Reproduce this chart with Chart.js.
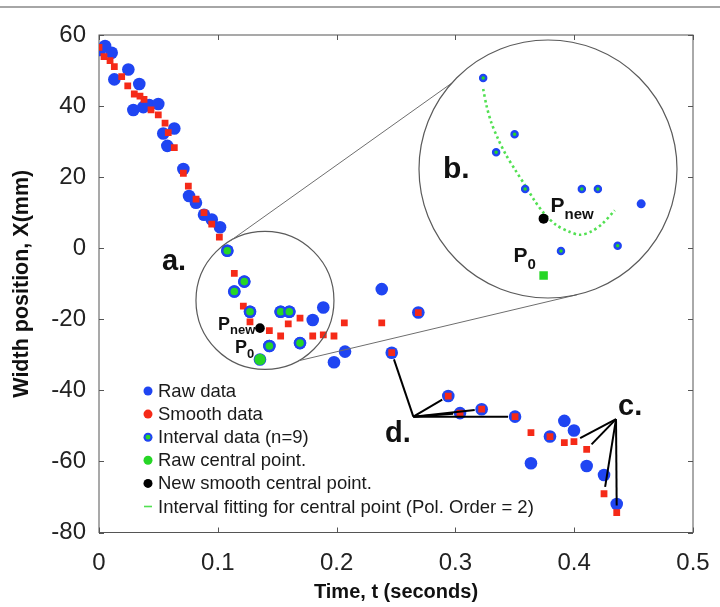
<!DOCTYPE html>
<html>
<head>
<meta charset="utf-8">
<script src="https://cdn.jsdelivr.net/npm/chart.js@4/dist/chart.umd.min.js"></script>
<style>
  body { margin: 0; background: #fff; }
  #wrap { position: relative; width: 720px; height: 607px; background: #fff; }
  #main { position: absolute; left: 0; top: 0; }
  #zoom { position: absolute; left: 418px; top: 39px; }
</style>
</head>
<body>
<div id="wrap">
  <canvas id="main" width="720" height="607"></canvas>
  <canvas id="zoom" width="260" height="260"></canvas>
</div>
<script>
"use strict"

// raw width measurements: time (s) and width position (mm)
const rawT = [0.0008, 0.0051, 0.0107, 0.0129, 0.0247, 0.0289, 0.0339, 0.0373, 0.0423, 0.0499,
  0.0541, 0.0575, 0.0634, 0.071, 0.0758, 0.0816, 0.0884, 0.0949, 0.1019, 0.108,
  0.1139, 0.1223, 0.1271, 0.1355, 0.1434, 0.1529, 0.1602, 0.1692, 0.1799, 0.1888,
  0.1978, 0.2071, 0.238, 0.2464, 0.2688, 0.294, 0.3039, 0.3221, 0.3502, 0.3636,
  0.3796, 0.3917, 0.3998, 0.4105, 0.4251, 0.4358]
const rawX = [55.8, 56.9, 55.0, 47.5, 50.3, 38.9, 46.2, 39.7, 40.3, 40.6,
  32.3, 28.8, 33.7, 22.3, 14.7, 12.8, 9.4, 8.1, 5.9, -0.7,
  -12.2, -9.4, -17.9, -31.3, -27.5, -17.9, -17.9, -26.7, -20.2, -16.7,
  -32.1, -29.1, -11.5, -29.4, -18.1, -41.6, -46.4, -45.3, -47.4, -60.5,
  -53.0, -48.6, -51.3, -61.3, -63.8, -72.0]

// smoothed series
const smoothT = [0.0, 0.0042, 0.0093, 0.0129, 0.0191, 0.0242, 0.0297, 0.0345, 0.0379, 0.0438,
  0.0499, 0.0556, 0.0583, 0.0634, 0.071, 0.0752, 0.0817, 0.0884, 0.0949, 0.1013,
  0.1139, 0.1215, 0.1271, 0.1434, 0.1529, 0.1593, 0.1692, 0.1799, 0.1888, 0.1978,
  0.2065, 0.238, 0.2464, 0.2688, 0.294, 0.3039, 0.3221, 0.3502, 0.3636, 0.3796,
  0.3917, 0.3998, 0.4105, 0.4251, 0.4358]
const smoothX = [56.5, 53.9, 52.8, 51.1, 48.3, 45.7, 43.4, 42.8, 41.9, 38.9,
  37.5, 35.2, 32.5, 28.3, 21.1, 17.5, 13.8, 10.0, 6.8, 3.1,
  -7.1, -16.3, -20.7, -23.2, -24.7, -21.3, -19.7, -24.7, -24.4, -24.7,
  -21.0, -21.0, -29.4, -18.1, -41.6, -46.4, -45.3, -47.4, -51.9, -53.0,
  -54.7, -54.4, -56.6, -69.1, -74.4]

// window of n=9 around the central point (central point itself kept apart)
const intervalT = [0.108, 0.1139, 0.1223, 0.1271, 0.1434, 0.1529, 0.1602, 0.1692]
const intervalX = [-0.7, -12.2, -9.4, -17.9, -27.5, -17.9, -17.9, -26.7]

const centralT = [0.1355]
const centralX = [-31.3]
const newCentralT = [0.1355]
const newCentralX = [-22.5]

// order-2 fit over the window, sampled along the drawn curve
const fitT = [0.108, 0.1096, 0.1117, 0.1146, 0.1182, 0.1225, 0.1272, 0.1312, 0.1355, 0.1413,
  0.147, 0.1521, 0.1571, 0.1622, 0.1679]
const fitX = [-2.4, -5.1, -7.6, -10.0, -12.5, -14.9, -17.4, -19.6, -21.6, -23.5,
  -24.5, -25.0, -24.5, -23.3, -21.2]

const xTicks = [0, 0.1, 0.2, 0.3, 0.4, 0.5]
const yTicks = [-80, -60, -40, -20, 0, 20, 40, 60]

// view of the magnified window (t range, X range)
const zoomT = [0.0813, 0.1937]
const zoomX = [-33.95, 4.35]
const zoomRawIdx = 28

const BLUE = "#1f45f2"
const RED = "#f52a18"
const GREEN = "#26d626"
const FIT_GREEN = "#52e052"
const FRAME = "#555"
const INK = "#1a1a1a"
const FONT = '"Liberation Sans", Arial, sans-serif'

const mainCanvas = document.getElementById("main")
const zoomCanvas = document.getElementById("zoom")
const zoomBox = { left: 418, top: 39, size: 260, r: 129 }

function points(ts, xs) {
  return ts.map((t, i) => ({ x: t, y: xs[i] }))
}

function dot(ctx, x, y, r, color) {
  ctx.fillStyle = color
  ctx.beginPath()
  ctx.arc(x, y, r, 0, Math.PI * 2)
  ctx.fill()
}

function subLabel(ctx, x, y, main, sub, size, subSize, drop) {
  ctx.fillStyle = "#111"
  ctx.textAlign = "left"
  ctx.textBaseline = "alphabetic"
  ctx.font = `bold ${size}px ${FONT}`
  ctx.fillText(main, x, y)
  const w = ctx.measureText(main).width
  ctx.font = `bold ${subSize}px ${FONT}`
  ctx.fillText(sub, x + w, y + drop)
}

function bigLabel(ctx, x, y, text, size) {
  ctx.fillStyle = "#111"
  ctx.textAlign = "left"
  ctx.textBaseline = "alphabetic"
  ctx.font = `bold ${size}px ${FONT}`
  ctx.fillText(text, x, y)
}

// leader lines from a label to a few smoothed points, stopping short of the marker
function leaders(ctx, ox, oy, idxs, sx, sy) {
  ctx.strokeStyle = "#000"
  ctx.lineWidth = 2
  idxs.forEach((i) => {
    const tx = sx.getPixelForValue(smoothT[i])
    const ty = sy.getPixelForValue(smoothX[i])
    const d = Math.hypot(tx - ox, ty - oy)
    const k = (d - 7) / d
    ctx.beginPath()
    ctx.moveTo(ox, oy)
    ctx.lineTo(ox + (tx - ox) * k, oy + (ty - oy) * k)
    ctx.stroke()
  })
}

const legendRows = [
  { text: "Raw data", mark: (c, x, y) => dot(c, x, y, 4.5, BLUE) },
  { text: "Smooth data", mark: (c, x, y) => dot(c, x, y, 4.5, RED) },
  { text: "Interval data (n=9)", mark: (c, x, y) => { dot(c, x, y, 4.5, BLUE); dot(c, x, y, 2.4, GREEN) } },
  { text: "Raw central point.", mark: (c, x, y) => dot(c, x, y, 4.5, GREEN) },
  { text: "New smooth central point.", mark: (c, x, y) => dot(c, x, y, 4.5, "#000") },
  { text: "Interval fitting for central point (Pol. Order = 2)", mark: (c, x, y) => { c.fillStyle = FIT_GREEN; c.fillRect(x - 4, y - 0.8, 8, 1.6) } },
]

const mainDecor = {
  id: "mainDecor",
  beforeDatasetsDraw(chart) {
    const { ctx, chartArea: a, scales } = chart
    ctx.save()
    // thin rule across the top of the figure
    ctx.fillStyle = "#a6a6a6"
    ctx.fillRect(0, 6, 720, 2)
    // box and inward tick marks on all four sides
    ctx.strokeStyle = FRAME
    ctx.lineWidth = 1
    ctx.strokeRect(a.left, a.top, a.right - a.left, a.bottom - a.top)
    ctx.beginPath()
    xTicks.forEach((v) => {
      const x = Math.round(scales.x.getPixelForValue(v)) + 0.5
      ctx.moveTo(x, a.bottom); ctx.lineTo(x, a.bottom - 5)
      ctx.moveTo(x, a.top); ctx.lineTo(x, a.top + 5)
    })
    yTicks.forEach((v) => {
      const y = Math.round(scales.y.getPixelForValue(v)) + 0.5
      ctx.moveTo(a.left, y); ctx.lineTo(a.left + 5, y)
      ctx.moveTo(a.right, y); ctx.lineTo(a.right - 5, y)
    })
    ctx.stroke()
    ctx.restore()
  },
  afterDatasetsDraw(chart) {
    const { ctx, scales } = chart
    const sx = scales.x
    const sy = scales.y
    ctx.save()

    // circle "a." around the window and its link to the magnified view
    const cx = sx.getPixelForValue(0.1397)
    const cy = sy.getPixelForValue(-14.7)
    const r = 69
    const bx = zoomBox.left + zoomBox.size / 2
    const by = zoomBox.top + zoomBox.size / 2
    ctx.strokeStyle = "#5a5a5a"
    ctx.lineWidth = 1.2
    ctx.beginPath()
    ctx.arc(cx, cy, r, 0, Math.PI * 2)
    ctx.stroke()
    ctx.strokeStyle = "#6e6e6e"
    ctx.lineWidth = 1
    const links = [[-120, -138.3], [61, 77]]
    links.forEach(([a1, a2]) => {
      const p = (a1 * Math.PI) / 180
      const q = (a2 * Math.PI) / 180
      ctx.beginPath()
      ctx.moveTo(cx + r * Math.cos(p), cy + r * Math.sin(p))
      ctx.lineTo(bx + zoomBox.r * Math.cos(q), by + zoomBox.r * Math.sin(q))
      ctx.stroke()
    })

    // labels near the window
    bigLabel(ctx, sx.getPixelForValue(0.053), sy.getPixelForValue(-6.1), "a.", 29)
    const nx = sx.getPixelForValue(newCentralT[0])
    const ny = sy.getPixelForValue(newCentralX[0])
    subLabel(ctx, nx - 42, ny + 2, "P", "new", 18, 13, 4)
    const px = sx.getPixelForValue(centralT[0])
    const py = sy.getPixelForValue(centralX[0])
    subLabel(ctx, px - 25, py - 6, "P", "0", 18, 13, 5)

    // "d." and "c." with their leader lines
    const dx = sx.getPixelForValue(0.2646)
    const dy = sy.getPixelForValue(-47.4)
    leaders(ctx, dx, dy, [32, 34, 35, 36, 37], sx, sy)
    bigLabel(ctx, sx.getPixelForValue(0.2407), sy.getPixelForValue(-54.5), "d.", 29)
    const ex = sx.getPixelForValue(0.4352)
    const ey = sy.getPixelForValue(-48.1)
    leaders(ctx, ex, ey, [41, 42, 43, 44], sx, sy)
    bigLabel(ctx, sx.getPixelForValue(0.4369), sy.getPixelForValue(-46.9), "c.", 29)

    ctx.restore()
  },
  afterDraw(chart) {
    const { ctx } = chart
    ctx.save()
    ctx.font = `18.5px ${FONT}`
    ctx.textAlign = "left"
    ctx.textBaseline = "middle"
    legendRows.forEach((row, i) => {
      const y = 391 + i * 23.1
      row.mark(ctx, 148, y)
      ctx.fillStyle = INK
      ctx.fillText(row.text, 158, y + 1)
    })
    ctx.restore()
  },
}

const tickFont = { family: FONT, size: 24 }
const xTitleFont = { family: FONT, size: 20, weight: "bold", lineHeight: 1 }
const yTitleFont = { family: FONT, size: 21.5, weight: "bold", lineHeight: 1 }

let mainChart = new Chart(mainCanvas, {
  type: "scatter",
  data: {
    datasets: [
      {
        label: "New smooth central point.",
        data: points(newCentralT, newCentralX),
        pointRadius: 4.8,
        backgroundColor: "#000",
        borderWidth: 0,
        order: 1,
      },
      {
        label: "Raw central point.",
        data: points(centralT, centralX),
        pointRadius: 5.6,
        backgroundColor: GREEN,
        borderWidth: 0,
        order: 2,
      },
      {
        label: "Interval data (n=9)",
        data: points(intervalT, intervalX),
        pointRadius: 5,
        borderWidth: 2.4,
        backgroundColor: GREEN,
        borderColor: BLUE,
        order: 3,
      },
      {
        label: "Smooth data",
        data: points(smoothT, smoothX),
        pointStyle: "rect",
        pointRadius: 4.8,
        backgroundColor: RED,
        borderWidth: 0,
        order: 4,
      },
      {
        label: "Raw data",
        data: points(rawT, rawX),
        pointRadius: 6.3,
        backgroundColor: BLUE,
        borderWidth: 0,
        order: 5,
      },
    ],
  },
  options: {
    responsive: false,
    animation: false,
    events: [],
    layout: { padding: { top: 35, right: 27, bottom: 0, left: 0 } },
    plugins: { legend: { display: false }, tooltip: { enabled: false } },
    scales: {
      x: {
        type: "linear",
        min: 0,
        max: 0.5,
        afterBuildTicks: (s) => { s.ticks = xTicks.map((v) => ({ value: v })) },
        afterFit: (s) => { s.height = 74.5 },
        grid: { display: false },
        border: { display: false },
        ticks: { padding: 8, color: "#222", font: tickFont, maxRotation: 0, callback: (v) => String(v) },
        title: { display: true, text: "Time, t (seconds)", color: "#111", font: xTitleFont, padding: { top: 0, bottom: 5 } },
      },
      y: {
        type: "linear",
        min: -80,
        max: 60,
        afterBuildTicks: (s) => { s.ticks = yTicks.map((v) => ({ value: v })) },
        afterFit: (s) => { s.width = 99 },
        grid: { display: false },
        border: { display: false },
        ticks: { padding: 5, color: "#222", font: tickFont, callback: (v) => String(v) },
        title: { display: true, text: "Width position, X(mm)", color: "#111", font: yTitleFont, padding: { top: 11, bottom: 0 } },
      },
    },
  },
  plugins: [mainDecor],
})

// magnified view "b." of the window
const zoomDecor = {
  id: "zoomDecor",
  beforeDatasetsDraw(chart) {
    const { ctx } = chart
    ctx.save()
    ctx.strokeStyle = "#5a5a5a"
    ctx.lineWidth = 1.2
    ctx.beginPath()
    ctx.arc(zoomBox.size / 2, zoomBox.size / 2, zoomBox.r, 0, Math.PI * 2)
    ctx.stroke()
    ctx.restore()
  },
  afterDatasetsDraw(chart) {
    const { ctx, scales } = chart
    ctx.save()
    bigLabel(ctx, 25, 139, "b.", 30)
    const nx = scales.x.getPixelForValue(newCentralT[0])
    const ny = scales.y.getPixelForValue(newCentralX[0])
    subLabel(ctx, nx + 7, ny - 7, "P", "new", 21, 15, 7)
    const px = scales.x.getPixelForValue(centralT[0])
    const py = scales.y.getPixelForValue(centralX[0])
    subLabel(ctx, px - 30, py - 13, "P", "0", 21, 15, 7)
    ctx.restore()
  },
}

let zoomChart = new Chart(zoomCanvas, {
  type: "scatter",
  data: {
    datasets: [
      {
        label: "New smooth central point.",
        data: points(newCentralT, newCentralX),
        pointRadius: 5,
        backgroundColor: "#000",
        borderWidth: 0,
        order: 1,
      },
      {
        label: "Raw central point.",
        data: points(centralT, centralX),
        pointStyle: "rect",
        pointRadius: 6,
        backgroundColor: GREEN,
        borderWidth: 0,
        order: 2,
      },
      {
        label: "Interval data (n=9)",
        data: points(intervalT, intervalX),
        pointRadius: 3,
        borderWidth: 2.5,
        backgroundColor: GREEN,
        borderColor: BLUE,
        order: 3,
      },
      {
        label: "Raw data",
        data: [{ x: rawT[zoomRawIdx], y: rawX[zoomRawIdx] }],
        pointRadius: 4.5,
        backgroundColor: BLUE,
        borderWidth: 0,
        order: 4,
      },
      {
        label: "Interval fitting for central point (Pol. Order = 2)",
        data: points(fitT, fitX),
        showLine: true,
        tension: 0.3,
        borderColor: FIT_GREEN,
        borderWidth: 2.6,
        borderDash: [2.5, 3],
        pointRadius: 0,
        order: 5,
      },
    ],
  },
  options: {
    responsive: false,
    animation: false,
    events: [],
    layout: { padding: 0 },
    plugins: { legend: { display: false }, tooltip: { enabled: false } },
    scales: {
      x: { type: "linear", display: false, min: zoomT[0], max: zoomT[1] },
      y: { type: "linear", display: false, min: zoomX[0], max: zoomX[1] },
    },
  },
  plugins: [zoomDecor],
})
</script>
</body>
</html>
